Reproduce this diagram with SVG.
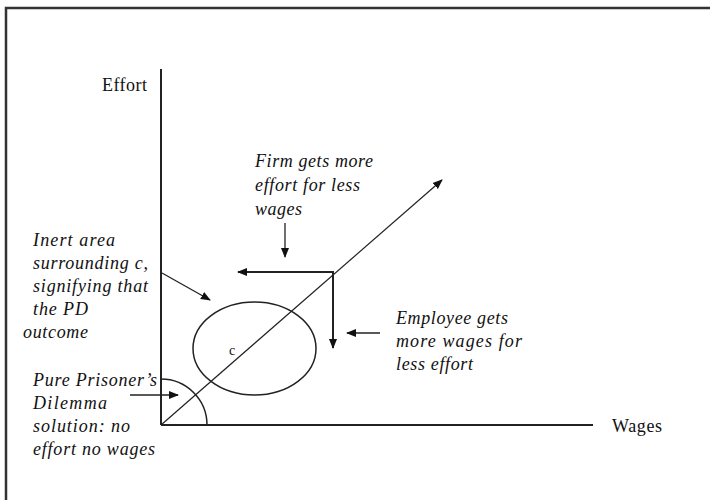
<svg xmlns="http://www.w3.org/2000/svg" width="710" height="500" viewBox="0 0 710 500">
<defs>
<marker id="ah" viewBox="0 0 10 10" refX="9" refY="5" markerWidth="10" markerHeight="10" markerUnits="userSpaceOnUse" orient="auto">
<path d="M0,1 L10,5 L0,9 Z" fill="#111"/>
</marker>
</defs>
<style>
.t{font-family:"Liberation Serif","Times New Roman",serif;font-size:18px;font-style:italic;fill:#111}
.u{font-family:"Liberation Serif","Times New Roman",serif;font-size:18px;fill:#111}
.ln{stroke:#222;fill:none}
</style>
<rect x="6" y="8" width="720" height="520" fill="#fff" stroke="#333" stroke-width="2.5"/>
<g id="axes">
<line class="ln" x1="161" y1="69" x2="161" y2="425" stroke-width="2"/>
<line class="ln" x1="161" y1="425" x2="593" y2="425" stroke-width="2"/>
<text class="u" x="102" y="91" textLength="45">Effort</text>
<text class="u" x="612" y="432" textLength="50">Wages</text>
</g>
<g id="pd-solution">
<path class="ln" d="M161,379 A46,46 0 0 1 207,425" stroke-width="1.5"/>
</g>
<g id="inert-area">
<ellipse class="ln" cx="254.5" cy="348.5" rx="61.5" ry="46.5" stroke-width="1.5"/>
<text class="u" x="229" y="355" style="font-size:14px">c</text>
</g>
<g id="connectors">
<line class="ln" x1="161" y1="425" x2="442" y2="180" stroke-width="1.2" marker-end="url(#ah)"/>
<line class="ln" x1="334" y1="272" x2="238" y2="272" stroke-width="2" marker-end="url(#ah)"/>
<line class="ln" x1="333" y1="272" x2="333" y2="348" stroke-width="2" marker-end="url(#ah)"/>
<line class="ln" x1="285" y1="223" x2="285" y2="257" stroke-width="1.3" marker-end="url(#ah)"/>
<line class="ln" x1="380" y1="333" x2="347" y2="333" stroke-width="1.3" marker-end="url(#ah)"/>
<line class="ln" x1="162" y1="273" x2="210" y2="300" stroke-width="1.3" marker-end="url(#ah)"/>
<line class="ln" x1="130" y1="395" x2="178" y2="395" stroke-width="1.5" marker-end="url(#ah)"/>
</g>
<g id="label-firm">
<text class="t" x="255" y="167" textLength="118">Firm gets more</text>
<text class="t" x="255" y="191" textLength="105">effort for less</text>
<text class="t" x="255" y="215" textLength="47">wages</text>
</g>
<g id="label-employee">
<text class="t" x="396" y="324" textLength="112">Employee gets</text>
<text class="t" x="396" y="347" textLength="126">more wages for</text>
<text class="t" x="396" y="370" textLength="77">less effort</text>
</g>
<g id="label-inert">
<text class="t" x="33" y="246" textLength="82">Inert area</text>
<text class="t" x="33" y="269" textLength="115">surrounding c,</text>
<text class="t" x="33" y="292" textLength="115">signifying that</text>
<text class="t" x="33" y="315" textLength="55">the PD</text>
<text class="t" x="23" y="338" textLength="65">outcome</text>
</g>
<g id="label-pure">
<text class="t" x="33" y="386" textLength="124">Pure Prisoner’s</text>
<text class="t" x="33" y="409" textLength="74">Dilemma</text>
<text class="t" x="33" y="432" textLength="97">solution: no</text>
<text class="t" x="33" y="455" textLength="122">effort no wages</text>
</g>
</svg>
